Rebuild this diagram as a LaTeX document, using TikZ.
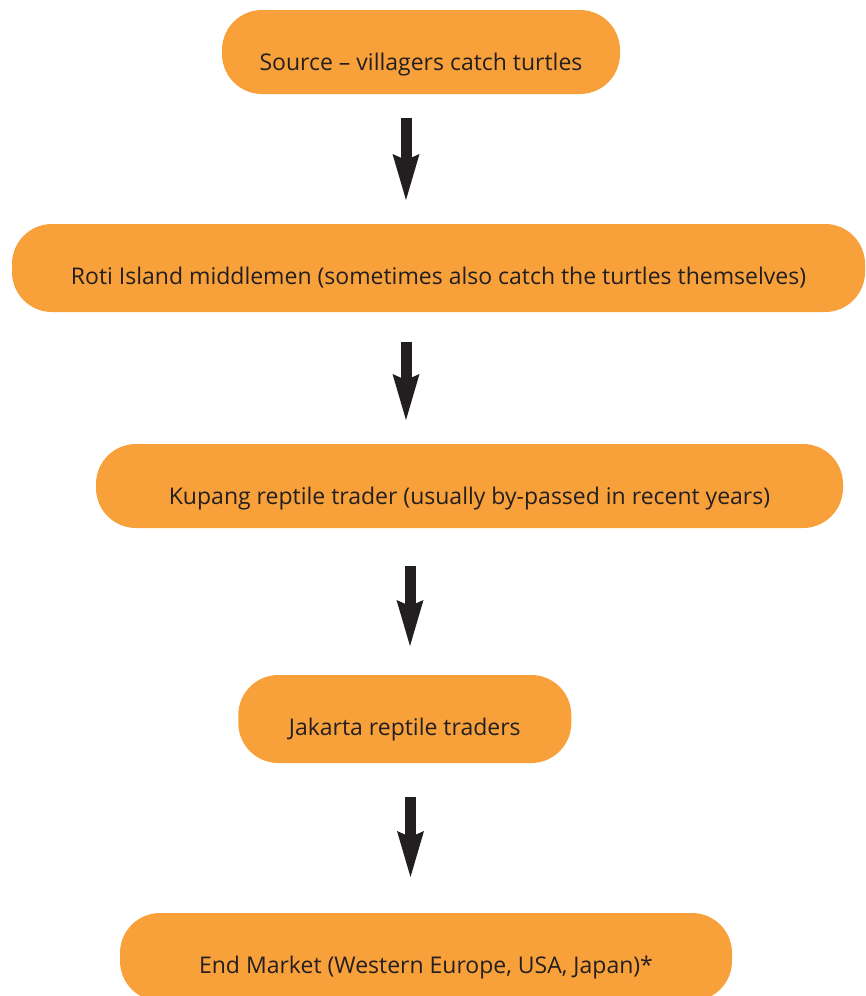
\documentclass[tikz,border=0pt]{standalone}
\usepackage{fontspec}
\setmainfont{Open Sans}
\usetikzlibrary{arrows.meta}
\definecolor{boxorange}{HTML}{F8A13A}
\definecolor{ink}{HTML}{231F20}
\begin{document}
\begin{tikzpicture}[x=1pt,y=-1pt,
  box/.style={fill=boxorange, rounded corners=40pt, inner sep=0pt, text height=60pt,
    font=\fontsize{23}{27}\selectfont, text=ink, align=center},
  fat/.style={draw=ink, line width=11pt,
    -{Stealth[length=46pt,width=27pt,inset=6pt,line width=0pt]}}]
\useasboundingbox (0,0) rectangle (866,996);
\clip (0,0) rectangle (866,996);
\node[box, minimum width=398pt, minimum height=84pt, text depth=24pt] (b1) at (421,52)
  {Source -- villagers catch turtles};
\node[box, minimum width=853pt, minimum height=88pt, text depth=28pt] (b2) at (438.5,268)
  {Roti Island middlemen (sometimes also catch the turtles themselves)};
\node[box, minimum width=747pt, minimum height=84pt, text depth=24pt] (b3) at (469.5,486)
  {Kupang reptile trader (usually by-passed in recent years)};
\node[box, minimum width=333pt, minimum height=88pt, text depth=28pt] (b4) at (404.8,719)
  {Jakarta reptile traders};
\node[box, minimum width=612pt, minimum height=88pt, text depth=28pt] (b5) at (426,957)
  {End Market (Western Europe, USA, Japan)*};
\coordinate (a1t) at (406,118);   \coordinate (a1b) at (406,200);
\coordinate (a2t) at (406,342);   \coordinate (a2b) at (406,420);
\coordinate (a3t) at (410,566);   \coordinate (a3b) at (410,646);
\coordinate (a4t) at (410.5,797); \coordinate (a4b) at (410.5,877);
\draw[fat] (a1t) -- (a1b);
\draw[fat] (a2t) -- (a2b);
\draw[fat] (a3t) -- (a3b);
\draw[fat] (a4t) -- (a4b);
\end{tikzpicture}
\end{document}
